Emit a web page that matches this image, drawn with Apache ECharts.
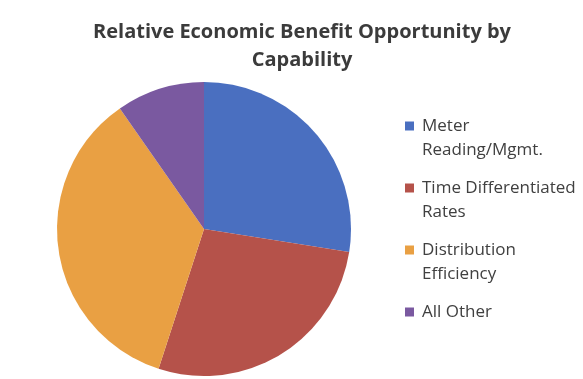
<!DOCTYPE html>
<html>
<head>
<meta charset="utf-8">
<script src="https://cdn.jsdelivr.net/npm/echarts@6/dist/echarts.min.js"></script>
<style>
html,body{margin:0;padding:0;background:#fff;}
#c{width:583px;height:379px;}
</style>
</head>
<body>
<div id="c"></div>
<script>
const titleText = 'Relative Economic Benefit Opportunity by\nCapability';
const categories = ['Meter\nReading/Mgmt.', 'Time Differentiated\nRates', 'Distribution\nEfficiency', 'All Other'];
const values = [27.5, 27.5, 35.3, 9.7];
const colors = ['#4A6FC0', '#B5524A', '#E9A043', '#7A59A0'];

const iconPath = 'path://M0,0L0,0M0,7.5L9,7.5L9,16.5L0,16.5ZM0,48L0,48';
const chart = echarts.init(document.getElementById('c'), null, {renderer: 'canvas'});
chart.setOption({
  backgroundColor: '#ffffff',
  animation: false,
  title: {
    text: titleText,
    left: 302,
    textAlign: 'center',
    top: 18,
    padding: 0,
    textStyle: {
      fontFamily: 'Open Sans',
      fontWeight: 'bold',
      fontSize: 20,
      lineHeight: 28,
      color: '#3b3b3b'
    }
  },
  legend: {
    orient: 'vertical',
    left: 405,
    top: 114,
    padding: 0,
    itemWidth: 9,
    itemHeight: 48,
    itemGap: 14,
    icon: iconPath,
    formatter: function (name) { return name.indexOf('\n') < 0 ? name + '\n ' : name; },
    textStyle: {
      fontFamily: 'Open Sans',
      fontSize: 17,
      lineHeight: 24,
      color: '#404040',
      padding: [0, 0, 0, 3]
    },
    data: categories
  },
  series: [{
    type: 'pie',
    center: [204, 229],
    radius: 147,
    startAngle: 90,
    clockwise: true,
    label: {show: false},
    labelLine: {show: false},
    itemStyle: {borderWidth: 0},
    emphasis: {disabled: true},
    data: categories.map((n, i) => ({name: n, value: values[i], itemStyle: {color: colors[i]}}))
  }]
});
</script>
</body>
</html>
